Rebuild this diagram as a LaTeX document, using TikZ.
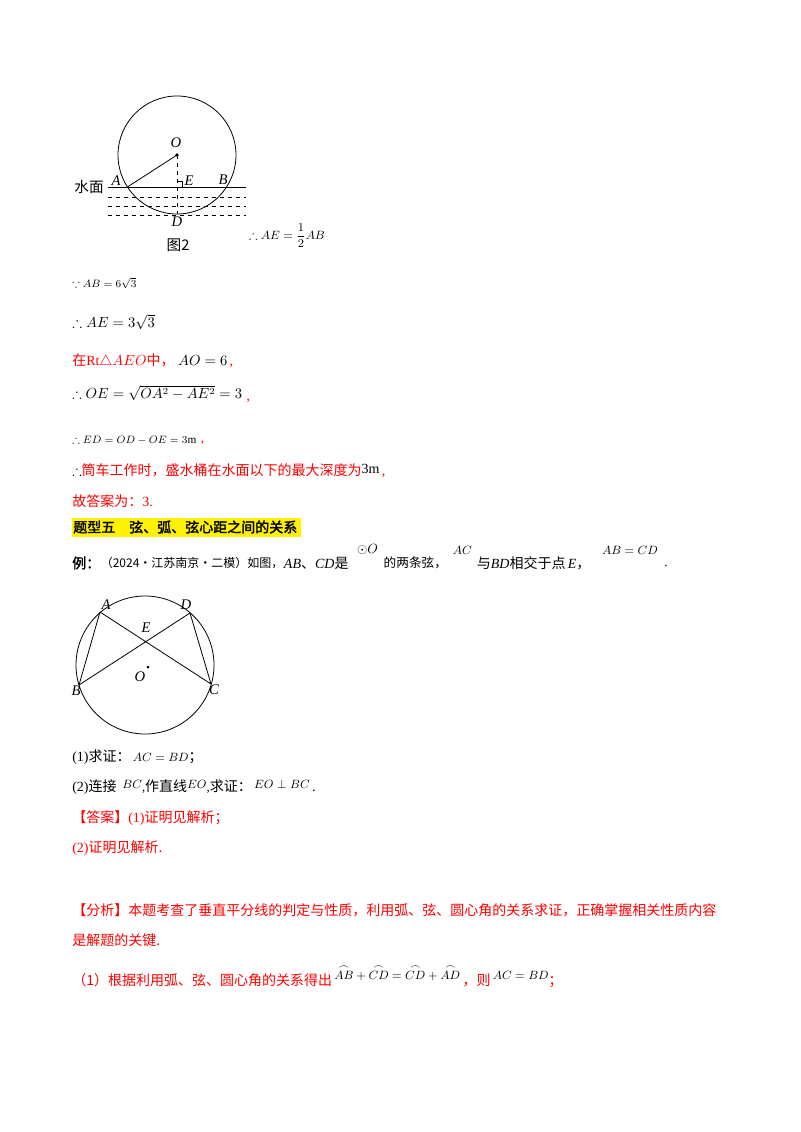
\documentclass[tikz,border=0pt]{standalone}
\usepackage{amsmath,amssymb}
\usepackage{fontspec}
\setmainfont{Liberation Serif}
\newfontfamily\cjk{Noto Sans CJK SC}
\newfontfamily\cjkb[FakeBold=2]{Noto Sans CJK SC}
\begin{document}
\begin{tikzpicture}[x=0.75pt,y=-0.75pt,
  txt/.style={anchor=west,inner sep=0pt,font=\fontsize{10.5}{12}\selectfont},
  red/.style={text=red},
  lbl/.style={inner sep=0pt,font=\fontsize{11}{12}\selectfont\itshape},
  geo/.style={line width=0.6pt}]
\useasboundingbox[fill=white] (0,0) rectangle (800,1132);
% figure 1
\coordinate (O1) at (177,155);
\draw[geo] (O1) circle (59);
\coordinate (A1) at (127.4,187);
\coordinate (E1) at (177,187);
\coordinate (D1) at (177,214);
\draw[geo] (108,187) -- (246,187);
\foreach \y in {197,206,215} \draw[geo,dashed] (108,\y) -- (246,\y);
\draw[geo] (A1) -- (O1);
\draw[geo,dashed] (O1) -- (D1);
\draw[geo] (177,181) -- (182,181) -- (182,187);
\fill (O1) circle (1.8);
\node[lbl] at (176,143) {O};
\node[lbl] at (116,181) {A};
\node[lbl] at (189,181) {E};
\node[lbl] at (223,180) {B};
\node[lbl] at (177,222) {D};
\node[inner sep=0pt,font=\fontsize{11}{12}\cjk] at (89,187) {水面};
\node[inner sep=0pt,font=\fontsize{11}{12}\cjk] at (178,245) {图2};
\node[inner sep=0pt,font=\fontsize{9.5}{10}\selectfont] at (287,236) {$\therefore AE=\dfrac{1}{2}AB$};
% text block
\node[txt,font=\fontsize{8.5}{10}\selectfont] (t1) at (72,283) {$\because AB=6\sqrt{3}$};
\node[txt,font=\fontsize{11}{12}\selectfont] (t2) at (72,322) {$\therefore AE=3\sqrt{3}$};
\node[txt,red] (t3) at (72,361) {{\cjk 在}Rt$\triangle AEO${\cjk 中，}\ \textcolor{black}{$AO=6$}\,,};
\node[txt,font=\fontsize{10.5}{12}\selectfont] (t4) at (72,393) {$\therefore OE=\sqrt{OA^2-AE^2}=3$};
\node[inner sep=0pt,red,anchor=west] at ([xshift=3pt,yshift=-6pt]t4.east) {,};
\node[txt,font=\fontsize{8.5}{10}\selectfont] (t5) at (72,440) {$\therefore ED=OD-OE=3\mathrm{m}$};
\node[inner sep=0pt,red,anchor=west] at ([xshift=3pt,yshift=-2pt]t5.east) {,};
\node[txt] (t6) at (72,471) {$\therefore$\textcolor{red}{\cjk 筒车工作时，盛水桶在水面以下的最大深度为}\raisebox{2pt}{3m}\textcolor{red}{\,,}};
\node[txt,red] (t7) at (72,501) {{\cjk 故答案为：}3.};
% heading
\fill[yellow] (72,518) rectangle (301,537);
\node[txt,font=\fontsize{10.5}{12}\cjkb] (h) at (73,527) {题型五\quad 弦、弧、弦心距之间的关系};
\node[txt,font=\fontsize{10.5}{12}\cjkb] (ex0) at (72,563) {例：};
\node[txt,font=\fontsize{9}{12}\cjk,anchor=west] (ex1) at (ex0.east) {（2024·江苏南京·二模）如图，};
\node[txt,anchor=west] (ex2) at (ex1.east) {\textit{AB}{\cjk 、}\textit{CD}{\cjk 是}};
\node[inner sep=0pt,font=\fontsize{10}{12}\selectfont,anchor=south west] (ex2b) at ([xshift=6pt,yshift=6pt]ex2.east) {$\odot O$};
\node[txt,font=\fontsize{9.5}{12}\cjk,anchor=west] (ex3) at ([xshift=26pt]ex2.east) {的两条弦，};
\node[inner sep=0pt,font=\fontsize{9}{12}\selectfont,anchor=south west] (ex3b) at ([xshift=4pt,yshift=6pt]ex3.east) {$AC$};
\node[txt,anchor=west] (ex4) at ([xshift=22pt]ex3.east) {{\cjk 与}\textit{BD}{\cjk 相交于点}\,\textit{E}{\cjk ，}};
\node[inner sep=0pt,font=\fontsize{9}{12}\selectfont] at (630,550) {$AB=CD$};
\node[inner sep=0pt] at (666,566) {.};
% figure 2
\coordinate (O2) at (145,665);
\draw[geo] (O2) circle (69);
\coordinate (A2) at (100,612);
\coordinate (D2) at (190,613);
\coordinate (B2) at (79,685);
\coordinate (C2) at (211,684);
\draw[geo] (A2) -- (B2) (A2) -- (C2) (D2) -- (B2) (D2) -- (C2);
\fill (148,667) circle (1.5);
\node[lbl] at (106,605) {A};
\node[lbl] at (186,605) {D};
\node[lbl] at (146,628) {E};
\node[lbl] at (76,691) {B};
\node[lbl] at (214,690) {C};
\node[lbl] at (140,677) {O};
% questions
\node[txt] (q1) at (72,757) {(1){\cjk 求证：}\,{\fontsize{9.5}{10}\selectfont$AC=BD$}{\cjk ；}};
\node[txt] (q2) at (72,787) {(2){\cjk 连接}\ \,{\fontsize{9.5}{10}\selectfont\raisebox{2pt}{$BC$},}{\cjk 作直线}{\fontsize{9.5}{10}\selectfont\raisebox{2pt}{$EO$},}{\cjk 求证：}\,{\fontsize{9.5}{10}\selectfont\raisebox{2pt}{$EO\perp BC$}}\,.};
\node[txt,red] (a1) at (72,818) {{\cjk 【答案】}(1){\cjk 证明见解析；}};
\node[txt,red] (a2) at (72,848) {(2){\cjk 证明见解析.}};
\node[txt,red] (f1) at (72,910) {\cjk 【分析】本题考查了垂直平分线的判定与性质，利用弧、弦、圆心角的关系求证，正确掌握相关性质内容};
\node[txt,red] (f2) at (72,940) {\cjk 是解题的关键.};
\node[txt,red] (f3) at (72,976) {{\cjk （1）根据利用弧、弦、圆心角的关系得出}\,\textcolor{black}{\fontsize{9.5}{10}\selectfont\raisebox{4pt}{$\overset{\frown}{AB}+\overset{\frown}{CD}=\overset{\frown}{CD}+\overset{\frown}{AD}$}}\,{\cjk ，则}\,\textcolor{black}{\fontsize{9.5}{10}\selectfont\raisebox{4pt}{$AC=BD$}}{\cjk ；}};
\end{tikzpicture}
\end{document}
